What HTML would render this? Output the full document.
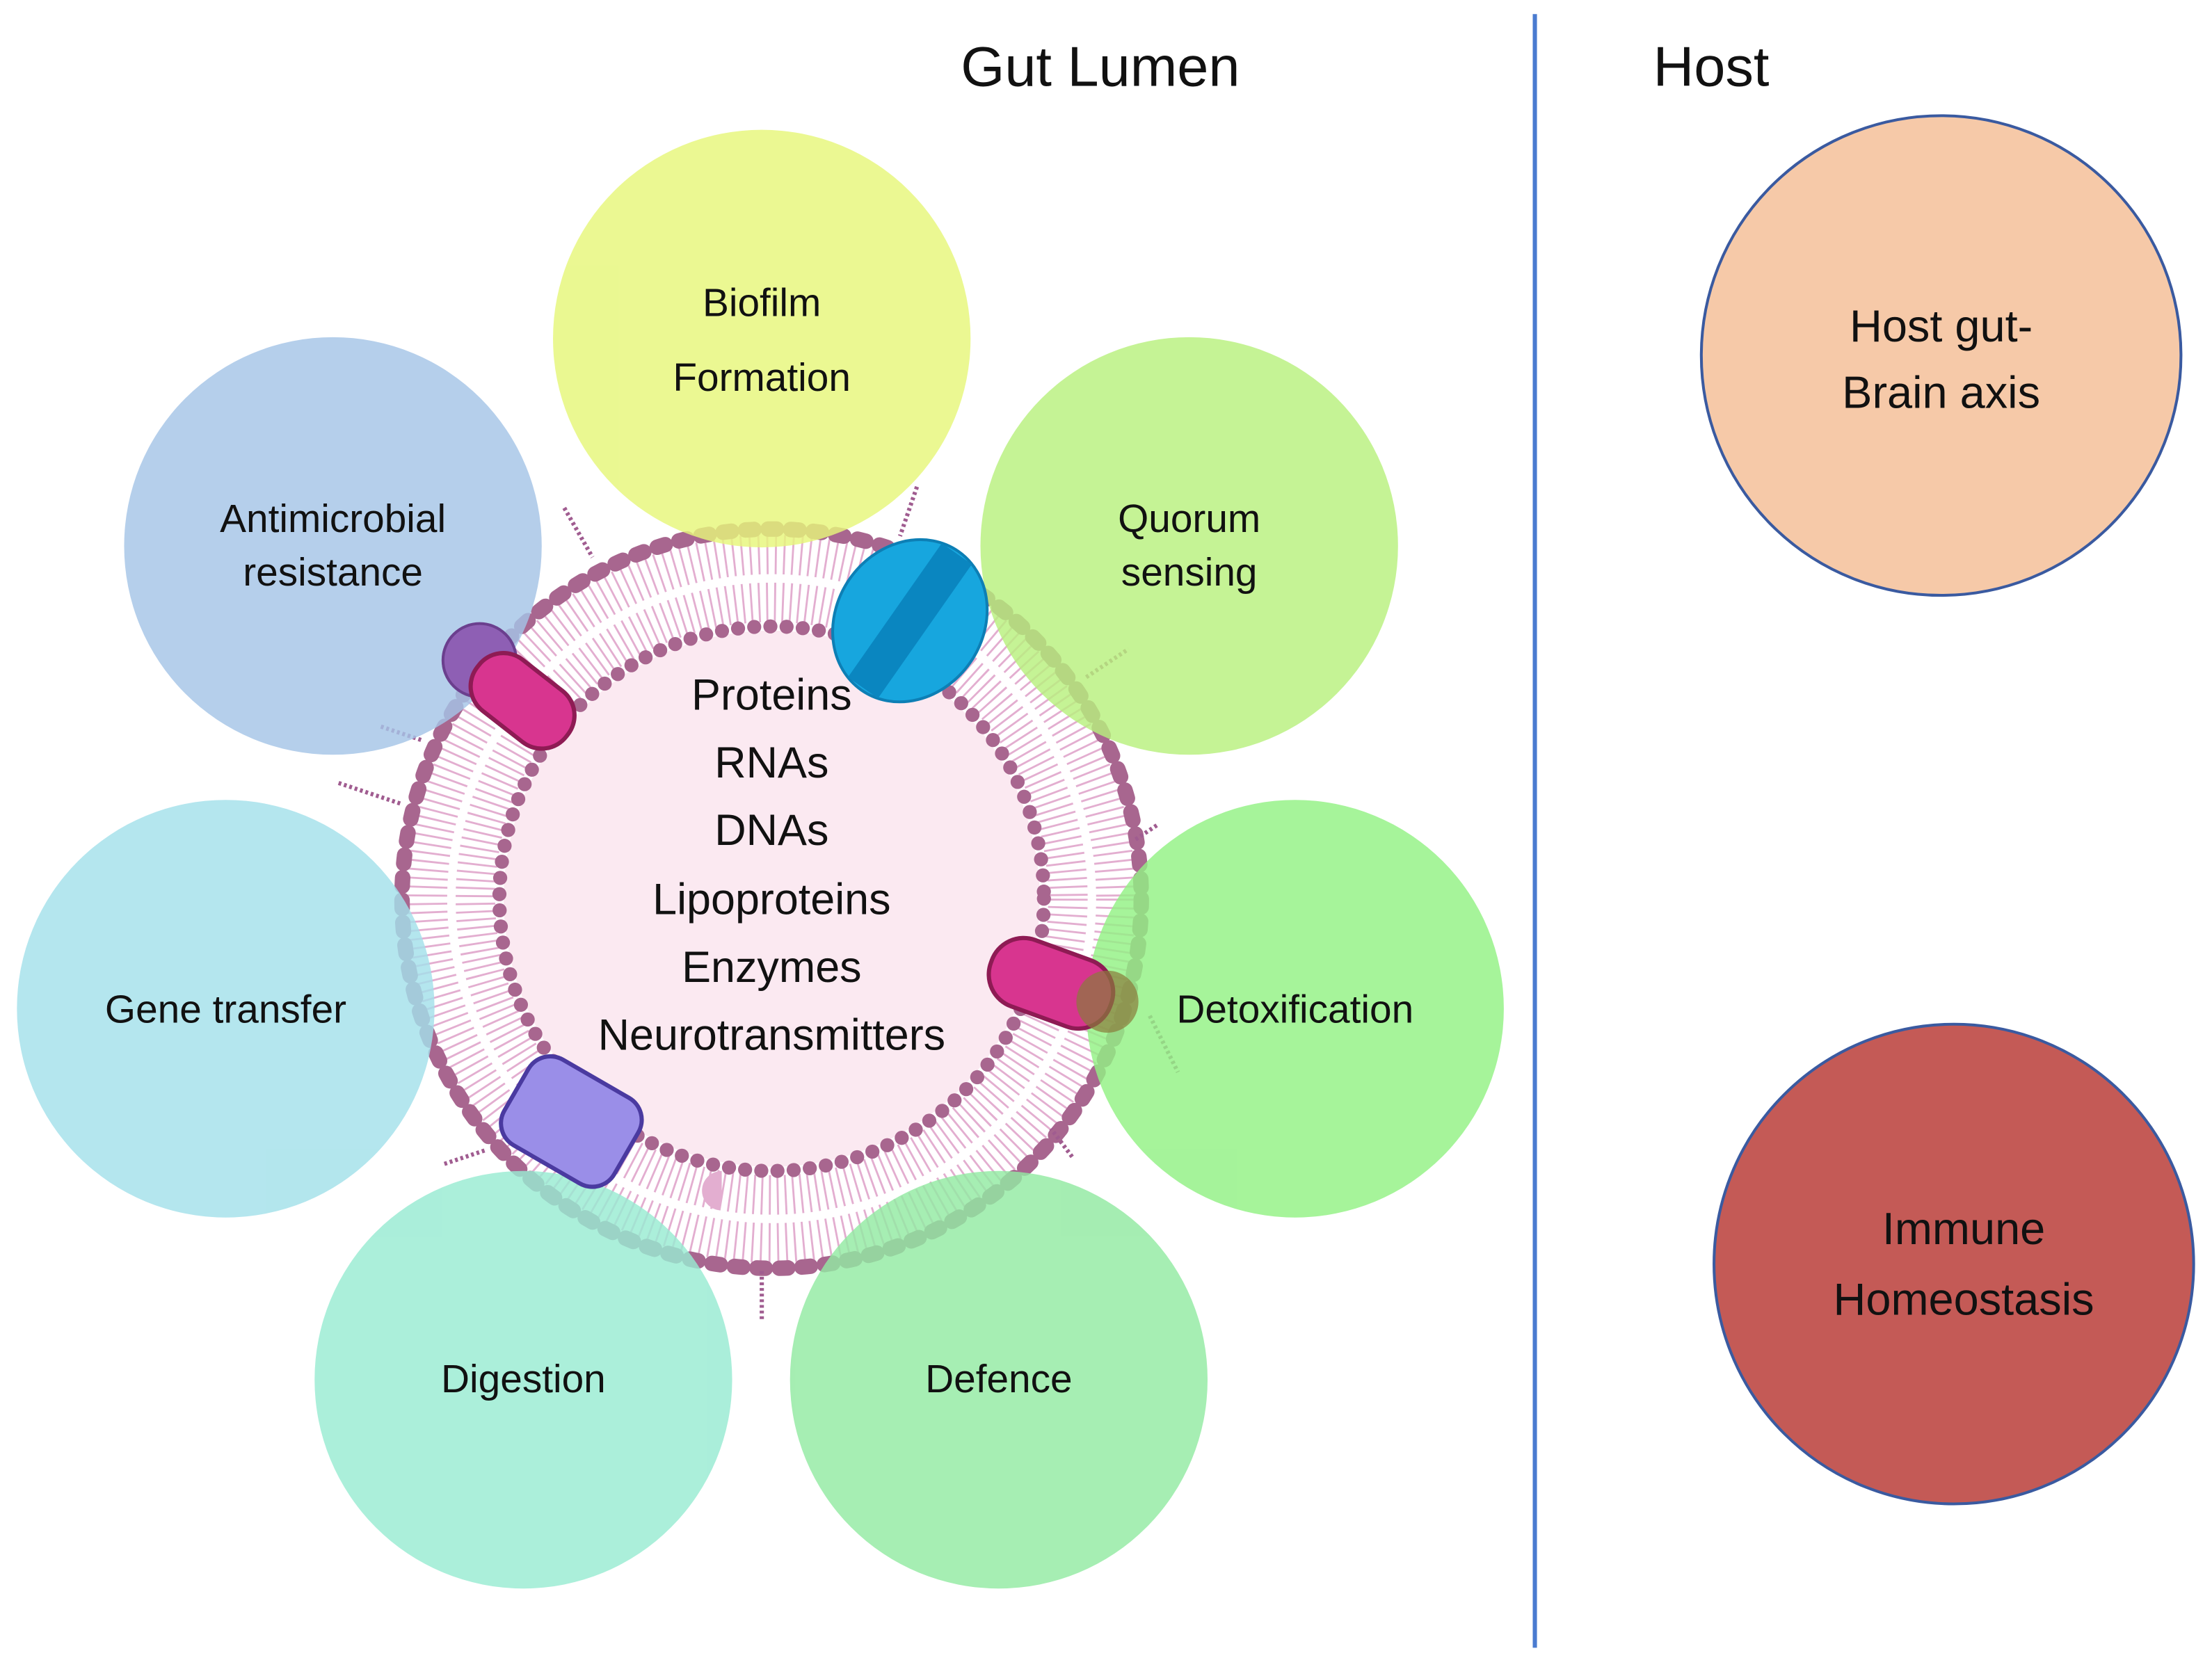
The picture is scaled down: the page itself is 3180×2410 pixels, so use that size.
<!DOCTYPE html>
<html><head><meta charset="utf-8"><style>
html,body{margin:0;padding:0;background:#fff;}
svg{display:block;}
text{font-family:"Liberation Sans",sans-serif;fill:#111;}
</style></head><body>
<svg width="3180" height="2410" viewBox="0 0 1568 1188" preserveAspectRatio="none" xmlns="http://www.w3.org/2000/svg">
<rect width="1568" height="1188" fill="#fff"/>
<text x="780" y="61" font-size="40" text-anchor="middle">Gut Lumen</text>
<text x="1213" y="61" font-size="40" text-anchor="middle">Host</text>
<line x1="1088" y1="10" x2="1088" y2="1168" stroke="#4a7bd0" stroke-width="3"/>

<g>
<circle cx="547" cy="637" r="190" fill="#fbe9f1"/>
<circle cx="547" cy="637" r="210" fill="none" stroke="#e3aed0" stroke-width="28" stroke-dasharray="1.4 4.2"/>
<circle cx="547" cy="637" r="244" fill="none" stroke="#e3aed0" stroke-width="28" stroke-dasharray="1.4 4.6"/>
<circle cx="547" cy="637" r="193" fill="none" stroke="#a8668f" stroke-width="10" stroke-dasharray="0 11.5" stroke-linecap="round"/>
<circle cx="547" cy="637" r="262" fill="none" stroke="#a8668f" stroke-width="11" stroke-dasharray="6 10" stroke-linecap="round"/>
<g stroke="#a05c90" stroke-width="3" stroke-dasharray="2 2">
<line x1="400" y1="360" x2="420" y2="395"/><line x1="650" y1="345" x2="638" y2="380"/>
<line x1="240" y1="555" x2="285" y2="570"/><line x1="820" y1="585" x2="805" y2="595"/>
<line x1="315" y1="825" x2="345" y2="815"/><line x1="540" y1="935" x2="540" y2="900"/>
<line x1="760" y1="820" x2="745" y2="800"/><line x1="815" y1="720" x2="835" y2="760"/>
<line x1="270" y1="515" x2="300" y2="525"/><line x1="770" y1="480" x2="800" y2="460"/>
</g>
</g>

<g opacity="0.82">
<circle cx="540" cy="240" r="148" fill="#e6f77a"/>
<circle cx="236" cy="387" r="148" fill="#a5c4e6"/>
<circle cx="843" cy="387" r="148" fill="#b8f07e"/>
<circle cx="160" cy="715" r="148" fill="#a3e1ea"/>
<circle cx="918" cy="715" r="148" fill="#92f184"/>
<circle cx="371" cy="978" r="148" fill="#98ebd2"/>
<circle cx="708" cy="978" r="148" fill="#92eaa2"/>
</g>

<circle cx="340" cy="468" r="26" fill="#8e5fb4" stroke="#6b3f8e" stroke-width="2"/>
<rect x="330" y="475" width="80" height="46" rx="22" fill="#d8358f" stroke="#8e1b54" stroke-width="3" transform="rotate(38 372 498)"/>
<g transform="rotate(35 645 440)">
<ellipse cx="645" cy="440" rx="52" ry="60" fill="#17a6de" stroke="#0d7fb5" stroke-width="2"/>
<rect x="632" y="382" width="26" height="116" fill="#0a86c0"/>
</g>
<rect x="700" y="672" width="90" height="50" rx="24" fill="#d8358f" stroke="#8e1b54" stroke-width="3" transform="rotate(20 745 697)"/>
<circle cx="785" cy="710" r="22" fill="#8a7a3a" opacity="0.7"/>
<rect x="360" y="760" width="90" height="70" rx="18" fill="#9a8ee8" stroke="#4a3aa0" stroke-width="3" transform="rotate(30 405 795)"/>

<g font-size="28" text-anchor="middle">
<text x="540" y="224">Biofilm</text><text x="540" y="277">Formation</text>
<text x="236" y="377">Antimicrobial</text><text x="236" y="415">resistance</text>
<text x="843" y="377">Quorum</text><text x="843" y="415">sensing</text>
<text x="160" y="725">Gene transfer</text>
<text x="918" y="725">Detoxification</text>
<text x="371" y="987">Digestion</text>
<text x="708" y="987">Defence</text>
</g>
<g font-size="31" text-anchor="middle">
<text x="547" y="503">Proteins</text>
<text x="547" y="551">RNAs</text>
<text x="547" y="599">DNAs</text>
<text x="547" y="648">Lipoproteins</text>
<text x="547" y="696">Enzymes</text>
<text x="547" y="744">Neurotransmitters</text>
</g>

<circle cx="1376" cy="252" r="170" fill="#f6c9a8" stroke="#3a5aa0" stroke-width="2"/>
<text x="1376" y="242" font-size="32" text-anchor="middle">Host gut-</text>
<text x="1376" y="289" font-size="32" text-anchor="middle">Brain axis</text>
<circle cx="1385" cy="896" r="170" fill="#c45a56" stroke="#3a5aa0" stroke-width="2"/>
<text x="1392" y="882" font-size="32" text-anchor="middle">Immune</text>
<text x="1392" y="932" font-size="32" text-anchor="middle">Homeostasis</text>
</svg>
</body></html>
